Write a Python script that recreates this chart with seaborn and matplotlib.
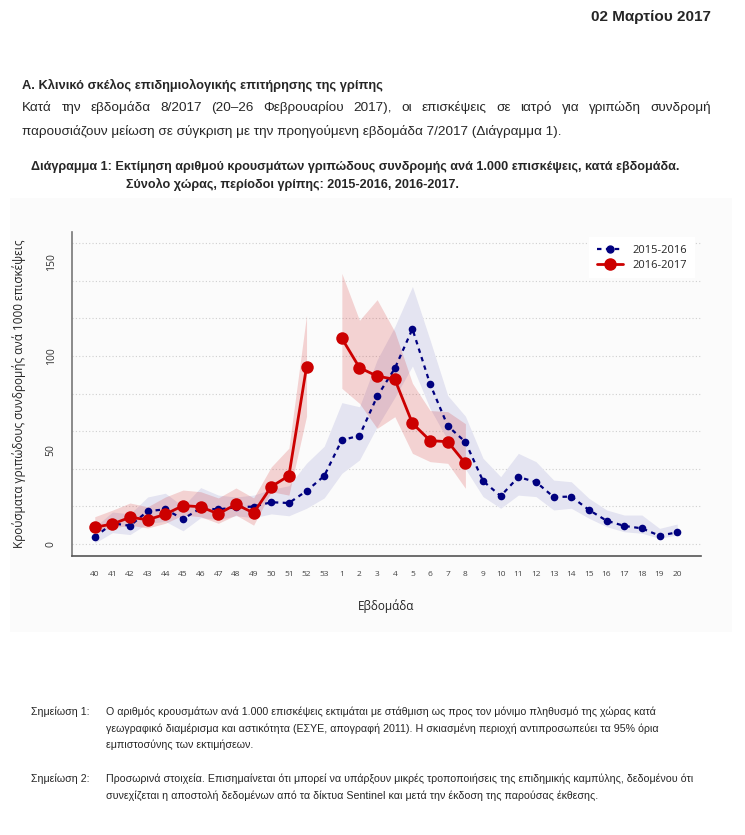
import numpy as np
import pandas as pd
import seaborn as sns
import matplotlib.pyplot as plt
from matplotlib import font_manager
from matplotlib.lines import Line2D
from matplotlib.patches import Rectangle

# week labels on the x axis (season runs week 40 -> week 20)
week_labels = ['40', '41', '42', '43', '44', '45', '46', '47', '48', '49', '50', '51', '52', '53',
               '1', '2', '3', '4', '5', '6', '7', '8', '9', '10', '11', '12', '13', '14', '15',
               '16', '17', '18', '19', '20']

# 2015-2016 estimate and 95% limits
ili_1516 = [3.6, 11.0, 9.7, 17.5, 18.4, 13.3, 19.0, 18.4, 19.5, 19.9, 22.2, 21.8, 28.2, 36.2,
            55.3, 57.6, 78.5, 93.4, 114.4, 85.1, 62.8, 54.3, 33.5, 25.5, 35.6, 33.0, 25.0, 25.2,
            18.1, 12.4, 9.6, 8.3, 4.4, 6.2]
low_1516 = [0.5, 6.0, 5.0, 11.0, 12.0, 7.0, 14.0, 13.0, 15.0, 14.0, 16.0, 15.0, 19.0, 24.5,
            37.6, 44.7, 62.4, 78.0, 94.7, 72.0, 55.3, 40.0, 25.2, 19.0, 26.0, 25.2, 18.1, 19.0,
            13.7, 9.2, 6.5, 5.7, 3.0, 4.8]
high_1516 = [9.0, 17.0, 16.0, 25.0, 27.0, 20.0, 30.0, 26.0, 25.0, 26.0, 29.0, 31.0, 43.0, 52.0,
             75.2, 73.0, 98.0, 115.6, 137.0, 108.5, 79.0, 68.0, 45.6, 35.8, 48.2, 43.8, 34.0, 33.1,
             24.3, 18.1, 15.4, 15.4, 8.3, 10.6]

# 2016-2017 (no value for week 53, data up to week 8)
ili_1617 = [8.9, 10.6, 14.2, 12.9, 15.8, 20.4, 19.8, 16.0, 21.1, 16.5, 30.5, 36.3, 94.3, np.nan,
            109.4, 93.8, 89.3, 87.6, 64.2, 55.0, 54.4, 42.9]
low_1617 = [6.5, 8.5, 10.0, 8.5, 11.0, 15.4, 14.5, 11.0, 15.4, 10.0, 27.8, 26.0, 68.0, np.nan,
            82.8, 74.8, 61.5, 67.7, 48.2, 43.8, 42.9, 29.6]
high_1617 = [14.5, 18.0, 21.8, 19.8, 25.0, 28.7, 27.8, 24.5, 29.8, 24.5, 41.0, 51.0, 121.8, np.nan,
             144.0, 119.0, 130.0, 113.0, 85.5, 71.0, 70.4, 64.0]

y_ticks = [0, 50, 100, 150]
grid_levels = [0, 20, 40, 60, 80, 100, 120, 140, 160]

BLUE = '#00007f'
RED = '#cc0000'
W, H = 745, 835


def pick_font(names):
    for n in names:
        try:
            font_manager.findfont(font_manager.FontProperties(family=n), fallback_to_default=False)
            return n
        except Exception:
            pass
    return 'DejaVu Sans'


doc_font = pick_font(['Liberation Sans Narrow', 'Liberation Sans'])
chart_font = pick_font(['Open Sans', 'Noto Sans'])

sns.set_style('white')
plt.rcParams['font.family'] = [chart_font, 'DejaVu Sans']


def to_frame(vals, low, high):
    df = pd.DataFrame({'pos': np.arange(len(vals)), 'val': vals, 'low': low, 'high': high})
    df['seg'] = df['val'].isna().cumsum()
    return df.dropna()


d1516 = to_frame(ili_1516, low_1516, high_1516)
d1617 = to_frame(ili_1617, low_1617, high_1617)

fig = plt.figure(figsize=(W / 100, H / 100), dpi=100)
fig.patch.set_facecolor('white')

# faint panel behind the chart
fig.add_artist(Rectangle((10 / W, 1 - 632 / H), 722 / W, 434 / H, transform=fig.transFigure,
                         facecolor='#fbfbfb', edgecolor='none', zorder=0))

ax = fig.add_axes([72 / W, 1 - 556 / H, 629 / W, 324 / H])
ax.set_facecolor('none')

for lev in grid_levels:
    ax.axhline(lev, color='#cfcfcf', lw=0.8, ls=(0, (1, 2)), zorder=0)

for _, g in d1516.groupby('seg'):
    ax.fill_between(g['pos'], g['low'], g['high'], color='#e4e4f1', lw=0, zorder=1)
for _, g in d1617.groupby('seg'):
    ax.fill_between(g['pos'], g['low'], g['high'], color=RED, alpha=0.16, lw=0, zorder=2)

sns.lineplot(data=d1516, x='pos', y='val', units='seg', estimator=None, color=BLUE,
             lw=1.6, ls=(0, (2, 2)), marker='o', markersize=5.5, markeredgewidth=0,
             ax=ax, legend=False, zorder=3)
sns.lineplot(data=d1617, x='pos', y='val', units='seg', estimator=None, color=RED,
             lw=2.0, marker='o', markersize=9, markeredgewidth=0,
             ax=ax, legend=False, zorder=4)

ax.set_xlim(-1.29, 34.35)
ax.set_ylim(-6.4, 166)
ax.set_xticks(range(len(week_labels)))
ax.set_xticklabels(week_labels, fontsize=6, color='#444444')
ax.set_yticks(y_ticks)
ax.set_yticklabels([str(t) for t in y_ticks], fontsize=7.5, color='#333333',
                   rotation=90, va='center')
ax.tick_params(axis='x', length=5, width=1, color='#555555', pad=6)
ax.tick_params(axis='y', length=6, width=1, color='#777777', pad=5)
for s in ['top', 'right']:
    ax.spines[s].set_visible(False)
ax.spines['left'].set_color('#777777')
ax.spines['bottom'].set_color('#555555')
ax.spines['left'].set_linewidth(1.2)
ax.spines['bottom'].set_linewidth(1.2)
ax.set_xlabel('Εβδομάδα', fontsize=8.5, color='#222222', labelpad=15)
ax.set_ylabel('Κρούσματα γριπώδους συνδρομής ανά 1000 επισκέψεις', fontsize=8.5,
              color='#222222', labelpad=14)

handles = [Line2D([], [], color=BLUE, lw=1.6, ls=(0, (2, 2)), marker='o', markersize=5),
           Line2D([], [], color=RED, lw=2.0, marker='o', markersize=8)]
leg = ax.legend(handles, ['2015-2016', '2016-2017'], loc='upper right', fontsize=8,
                frameon=True, facecolor='white', edgecolor='none', framealpha=1,
                handlelength=2.4, borderaxespad=0.3, labelspacing=0.35,
                bbox_to_anchor=(0.99, 0.985))
leg.get_frame().set_boxstyle('square', pad=0.3)

# ---- document text around the chart ----
renderer = fig.canvas.get_renderer()


def put(x, y, s, **kw):
    kw.setdefault('family', [doc_font, 'DejaVu Sans'])
    return fig.text(x / W, 1 - y / H, s, va='center', **kw)


def justify(x0, x1, y, s, **kw):
    words = s.split()
    objs = [put(0, y, w, **kw) for w in words]
    widths = [o.get_window_extent(renderer).width for o in objs]
    gap = (x1 - x0 - sum(widths)) / (len(words) - 1)
    x = x0
    for o, w in zip(objs, widths):
        o.set_x(x / W)
        x += w + gap


put(711, 17, '02 Μαρτίου 2017', fontsize=11, weight='bold', ha='right')
put(22, 85, 'Α. Κλινικό σκέλος επιδημιολογικής επιτήρησης της γρίπης', fontsize=9.3, weight='bold')
justify(22, 711, 108, 'Κατά την εβδομάδα 8/2017 (20–26 Φεβρουαρίου 2017), οι επισκέψεις σε '
        'ιατρό για γριπώδη συνδρομή', fontsize=9.7)
put(22, 131, 'παρουσιάζουν μείωση σε σύγκριση με την προηγούμενη εβδομάδα 7/2017 (Διάγραμμα 1).',
    fontsize=9.7)
put(31, 167, 'Διάγραμμα 1: Εκτίμηση αριθμού κρουσμάτων γριπώδους συνδρομής ανά 1.000 '
    'επισκέψεις, κατά εβδομάδα.', fontsize=9.1, weight='bold')
put(126, 184, 'Σύνολο χώρας, περίοδοι γρίπης: 2015-2016, 2016-2017.', fontsize=9.1, weight='bold')

note_size = 7.7
put(31, 712, 'Σημείωση 1:', fontsize=note_size)
put(106, 712, 'Ο αριθμός κρουσμάτων ανά 1.000 επισκέψεις εκτιμάται με στάθμιση ως προς τον '
    'μόνιμο πληθυσμό της χώρας κατά', fontsize=note_size)
put(106, 729, 'γεωγραφικό διαμέρισμα και αστικότητα (ΕΣΥΕ, απογραφή 2011). Η σκιασμένη '
    'περιοχή αντιπροσωπεύει τα 95% όρια', fontsize=note_size)
put(106, 745, 'εμπιστοσύνης των εκτιμήσεων.', fontsize=note_size)
put(31, 779, 'Σημείωση 2:', fontsize=note_size)
put(106, 779, 'Προσωρινά στοιχεία. Επισημαίνεται ότι μπορεί να υπάρξουν μικρές τροποποιήσεις '
    'της επιδημικής καμπύλης, δεδομένου ότι', fontsize=note_size)
put(106, 796, 'συνεχίζεται η αποστολή δεδομένων από τα δίκτυα Sentinel και μετά την έκδοση '
    'της παρούσας έκθεσης.', fontsize=note_size)

fig.savefig('out.png', dpi=100)
